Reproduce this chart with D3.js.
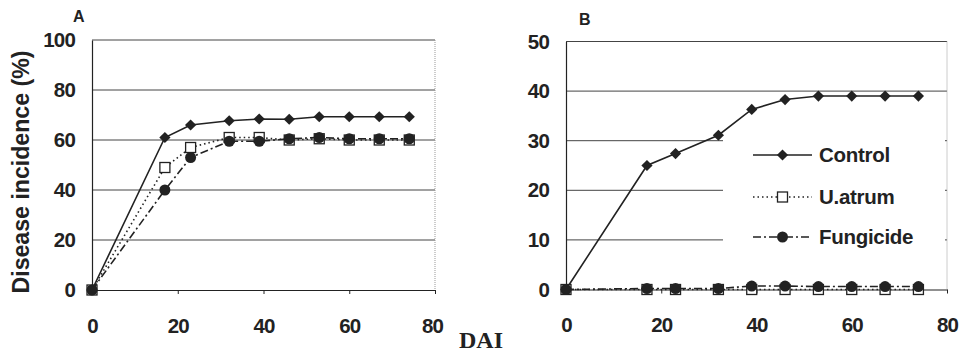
<!DOCTYPE html>
<html>
<head>
<meta charset="utf-8">
<script src="https://cdn.jsdelivr.net/npm/d3@7"></script>
<style>
  body { margin: 0; background: #fff; }
  svg text { font-family: "Liberation Sans", Arial, sans-serif; font-weight: bold; fill: #222; }
</style>
</head>
<body>
<div id="chart"></div>
<script>
// sampling days (days after inoculation)
const days = [0, 17, 23, 32, 39, 46, 53, 60, 67, 74];

// panel A - disease incidence (%)
const controlA   = [0, 61, 66, 67.7, 68.4, 68.3, 69.3, 69.3, 69.3, 69.3];
const uatrumA    = [0, 49, 57, 61, 61, 60, 60.5, 60, 60, 60];
const fungicideA = [0, 40, 53, 59.5, 59.5, 60.5, 61, 60.5, 60.5, 60.5];

// panel B - disease incidence (%)
const controlB   = [0, 25, 27.4, 31.1, 36.3, 38.3, 39, 39, 39, 39];
const uatrumB    = [0, 0, 0, 0, 0, 0, 0, 0, 0, 0];
const fungicideB = [0, 0.2, 0.2, 0.2, 0.7, 0.7, 0.6, 0.6, 0.6, 0.6];

const seriesNames = ['Control', 'U.atrum', 'Fungicide'];
const xTicks = [0, 20, 40, 60, 80];
const yTicksA = [0, 20, 40, 60, 80, 100];
const yTicksB = [0, 10, 20, 30, 40, 50];

const W = 973, H = 353;
const ink = '#222';

const svg = d3.select('#chart').append('svg')
    .attr('width', W).attr('height', H)
    .attr('viewBox', `0 0 ${W} ${H}`);

// line + marker style for each series
const styles = {
    'Control':   {dash: null,        marker: 'diamond'},
    'U.atrum':   {dash: '1.5,3',     marker: 'square'},
    'Fungicide': {dash: '8,3,2,3',   marker: 'circle'}
};

function drawMarker(g, type, x, y){
    if(type === 'diamond'){
        g.append('path')
            .attr('d', d3.symbol(d3.symbolDiamond2, 80)())
            .attr('transform', `translate(${x},${y})`)
            .attr('fill', ink);
    } else if(type === 'square'){
        g.append('rect')
            .attr('x', x - 5).attr('y', y - 5)
            .attr('width', 10).attr('height', 10)
            .attr('fill', '#fff').attr('stroke', ink).attr('stroke-width', 1.3);
    } else {
        g.append('circle')
            .attr('cx', x).attr('cy', y).attr('r', 5.5)
            .attr('fill', ink);
    }
}

function styleTicks(sel){
    sel.attr('font-size', 20.5).attr('letter-spacing', -0.8)
        .attr('font-family', '"Liberation Sans", Arial, sans-serif')
        .attr('font-weight', 'bold').attr('fill', ink);
}

// Draws one panel: range is [left,right] / [bottom,top] in px
function drawPanel(o){
    const x = d3.scaleLinear().domain([0, 80]).range(o.xr);
    const y = d3.scaleLinear().domain([0, o.ymax]).range(o.yr);
    const g = svg.append('g');

    // horizontal gridlines
    g.selectAll('line.grid')
        .data(o.yTicks.filter(d => d > 0))
        .join('line')
        .classed('grid', true)
        .attr('x1', x(0)).attr('x2', x(80))
        .attr('y1', d => y(d)).attr('y2', d => y(d))
        .attr('stroke', '#444').attr('stroke-width', 1);

    // right border (light, dotted)
    g.append('line')
        .attr('x1', x(80)).attr('x2', x(80))
        .attr('y1', y(o.ymax)).attr('y2', y(0))
        .attr('stroke', '#999').attr('stroke-dasharray', '1,1');

    // y axis
    const yAxis = g.append('g')
        .attr('transform', `translate(${x(0)},0)`)
        .call(d3.axisLeft(y).tickValues(o.yTicks).tickSize(0).tickPadding(17));
    yAxis.select('.domain').attr('stroke', ink).attr('stroke-width', 1.2);
    styleTicks(yAxis.selectAll('text'));

    // x axis
    const xAxis = g.append('g')
        .attr('transform', `translate(0,${y(0)})`)
        .call(d3.axisBottom(x).tickValues(xTicks).tickSize(4).tickSizeOuter(0).tickPadding(24));
    xAxis.select('.domain').attr('stroke', ink).attr('stroke-width', 1.2);
    xAxis.selectAll('line').attr('stroke', ink);
    styleTicks(xAxis.selectAll('text'));
    if(o.clipLast){
        xAxis.selectAll('.tick').filter(d => d === 80).select('text').attr('dx', -3);
    }

    // legend background hides the gridlines behind it
    if(o.legend){
        g.append('rect')
            .attr('x', o.legend.x0).attr('y', o.legend.y0)
            .attr('width', o.legend.w).attr('height', o.legend.h)
            .attr('fill', '#fff');
    }

    // series lines and markers
    const line = d3.line().x((d, i) => x(days[i])).y(d => y(d));
    o.series.forEach((vals, si) => {
        const st = styles[seriesNames[si]];
        g.append('path')
            .datum(vals)
            .attr('d', line)
            .attr('fill', 'none')
            .attr('stroke', ink)
            .attr('stroke-width', 1.6)
            .attr('stroke-dasharray', st.dash);
        const mg = g.append('g');
        vals.forEach((v, i) => drawMarker(mg, st.marker, x(days[i]), y(v)));
    });

    // panel letter
    g.append('text')
        .attr('x', o.letter[0]).attr('y', o.letter[1])
        .attr('font-size', 16)
        .text(o.letter[2]);

    // legend
    if(o.legend){
        const lg = g.append('g');
        seriesNames.forEach((name, i) => {
            const ly = o.legend.ly[i];
            const st = styles[name];
            lg.append('line')
                .attr('x1', o.legend.lx1).attr('x2', o.legend.lx2)
                .attr('y1', ly).attr('y2', ly)
                .attr('stroke', ink).attr('stroke-width', 1.6)
                .attr('stroke-dasharray', st.dash);
            drawMarker(lg, st.marker, (o.legend.lx1 + o.legend.lx2) / 2, ly);
            lg.append('text')
                .attr('x', o.legend.tx).attr('y', ly)
                .attr('dy', '0.36em')
                .attr('font-size', 20.5).attr('letter-spacing', -0.3)
                .text(name);
        });
    }
}

drawPanel({
    xr: [92, 435], yr: [290, 40], ymax: 100, yTicks: yTicksA,
    series: [controlA, uatrumA, fungicideA],
    letter: [73, 22, 'A'], clipLast: true
});

drawPanel({
    xr: [566, 947], yr: [289.5, 41.5], ymax: 50, yTicks: yTicksB,
    series: [controlB, uatrumB, fungicideB],
    letter: [579, 25, 'B'],
    legend: {x0: 723, y0: 137, w: 222, h: 113,
             lx1: 753, lx2: 812, tx: 819, ly: [155, 197, 237]}
});

// y axis title
svg.append('text')
    .attr('transform', 'translate(28.5,172) rotate(-90)')
    .attr('text-anchor', 'middle')
    .attr('font-size', 24)
    .attr('textLength', 243)
    .attr('lengthAdjust', 'spacingAndGlyphs')
    .text('Disease incidence (%)');

// shared x axis title
svg.append('text')
    .attr('x', 481).attr('y', 348)
    .attr('text-anchor', 'middle')
    .attr('font-size', 24)
    .style('font-family', '"Liberation Serif", "Times New Roman", serif')
    .text('DAI');
</script>
</body>
</html>
